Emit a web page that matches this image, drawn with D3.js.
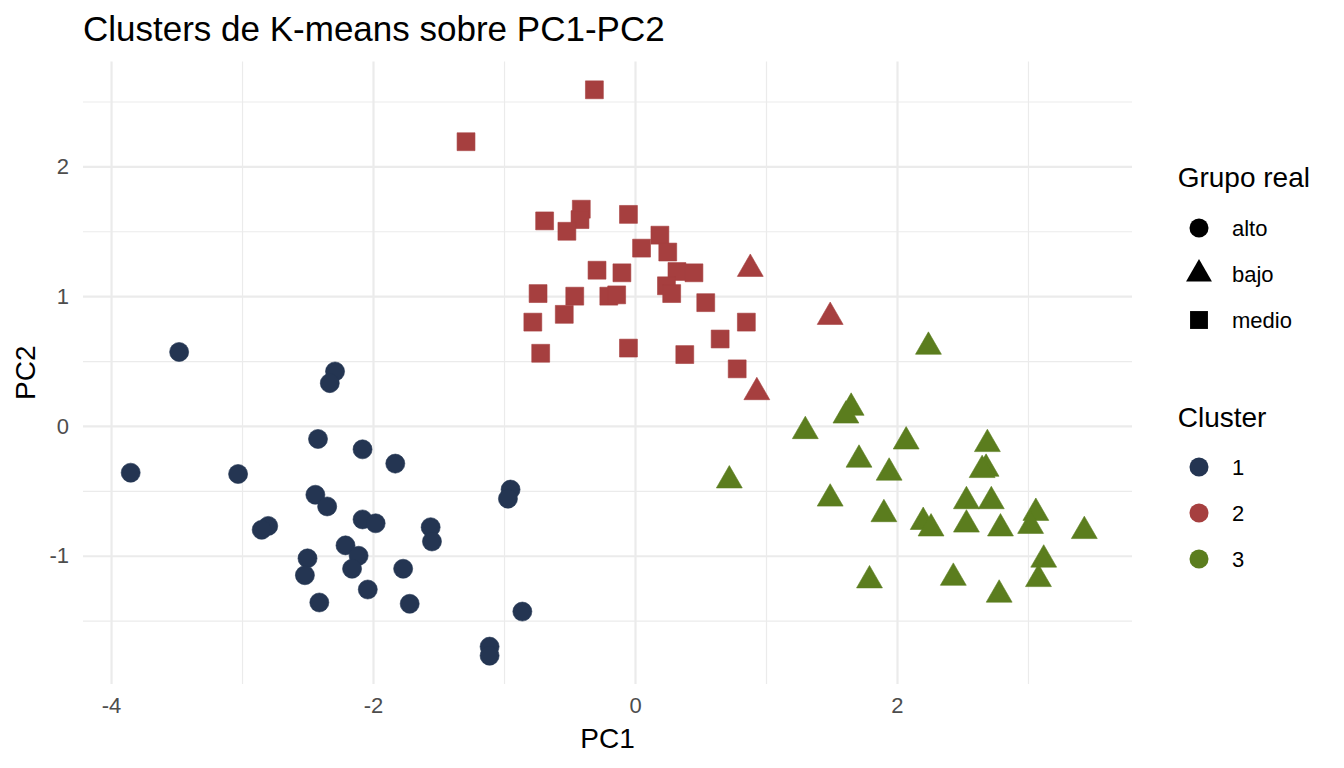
<!DOCTYPE html>
<html>
<head>
<meta charset="utf-8">
<script src="https://cdn.jsdelivr.net/npm/d3@7/dist/d3.min.js"></script>
<style>
  body { margin: 0; background: #fff; }
  svg { font-family: "Liberation Sans", Arial, Helvetica, sans-serif; }
</style>
</head>
<body>
<script>
'use strict';

var width  = 1344;
var height = 768;

// valores
var pc1 = [
  -3.48, -2.29, -2.33, -2.42, -2.08, -3.85, -3.03, -2.44, -2.35, -2.80,
  -2.85, -2.08, -1.98, -2.21, -2.11, -2.16, -2.50, -2.52, -2.04, -2.41,
  -1.83, -1.56, -1.55, -1.77, -1.72, -0.95, -0.97, -0.86, -1.11, -1.11,
  -0.31, -1.29, -0.41, -0.42, -0.69, -0.52, -0.05,  0.19,  0.05,  0.25,
   0.32,  0.45, -0.29, -0.10,  0.24,  0.28, -0.74, -0.46, -0.20, -0.14,
   0.54, -0.54, -0.78,  0.85,  0.65, -0.05,  0.38, -0.72,  0.78,
   0.88,  1.49,  0.93,
   2.24,  1.65,  1.61,  1.30,  2.07,  2.69,  1.71,  1.94,  2.68,  2.65,
   0.72,  1.49,  2.53,  2.72,  1.90,  3.06,  2.20,  2.26,  2.53,  2.79,
   3.02,  3.43,  3.12,  1.79,  2.43,  3.08,  2.78
];
var pc2 = [
   0.57,  0.42,  0.33, -0.10, -0.18, -0.36, -0.37, -0.53, -0.62, -0.77,
  -0.80, -0.72, -0.75, -0.92, -1.00, -1.10, -1.02, -1.15, -1.26, -1.36,
  -0.29, -0.78, -0.89, -1.10, -1.37, -0.49, -0.56, -1.43, -1.70, -1.77,
   2.59,  2.19,  1.67,  1.59,  1.58,  1.50,  1.63,  1.47,  1.37,  1.34,
   1.19,  1.18,  1.20,  1.18,  1.08,  1.02,  1.02,  1.00,  1.00,  1.01,
   0.95,  0.86,  0.80,  0.80,  0.67,  0.60,  0.55,  0.56,  0.44,
   1.21,  0.84,  0.26,
   0.61,  0.14,  0.08, -0.04, -0.12, -0.14, -0.26, -0.36, -0.33, -0.34,
  -0.42, -0.56, -0.58, -0.58, -0.68, -0.67, -0.74, -0.79, -0.76, -0.79,
  -0.77, -0.81, -1.03, -1.19, -1.17, -1.18, -1.30
];
// grupo real y cluster de cada punto (en el mismo orden)
var grupoCounts   = [['alto', 30], ['medio', 29], ['bajo', 3], ['bajo', 27]];
var clusterCounts = [['1', 30], ['2', 29], ['2', 3], ['3', 27]];

var grupos    = ['alto', 'bajo', 'medio'];
var clusters  = ['1', '2', '3'];
var xTicks    = [-4, -2, 0, 2];
var xMinor    = [-3, -1, 1, 3];
var yTicks    = [-1, 0, 1, 2];
var yMinor    = [-1.5, -0.5, 0.5, 1.5, 2.5];

function expandCounts(counts) {
  var out = [];
  counts.forEach(function(c) { for (var i = 0; i < c[1]; i++) out.push(c[0]); });
  return out;
}
var grupo   = expandCounts(grupoCounts);
var cluster = expandCounts(clusterCounts);

var data = pc1.map(function(v, i) {
  return { pc1: v, pc2: pc2[i], grupo: grupo[i], cluster: cluster[i] };
});

var panel = { left: 83, right: 1132, top: 61.5, bottom: 684 };

// expansion del 5% como ggplot
function expanded(ext) {
  var pad = (ext[1] - ext[0]) * 0.05;
  return [ext[0] - pad, ext[1] + pad];
}

var x = d3.scaleLinear()
    .domain(expanded(d3.extent(pc1)))
    .range([panel.left, panel.right]);
var y = d3.scaleLinear()
    .domain(expanded(d3.extent(pc2)))
    .range([panel.bottom, panel.top]);

var color = d3.scaleOrdinal()
    .domain(clusters)
    .range(['#243552', '#A63F3F', '#5B7D1E']);
var shape = d3.scaleOrdinal()
    .domain(grupos)
    .range([d3.symbolCircle, d3.symbolTriangle, d3.symbolSquare]);
var shapeSize = d3.scaleOrdinal()
    .domain(grupos)
    .range([285, 290, 320]);

var symbol = d3.symbol()
    .type(function(d) { return shape(d.grupo); })
    .size(function(d) { return shapeSize(d.grupo); });

// etiquetas con guion normal, como en R
var tickFmt = function(d) { return String(d); };

var svg = d3.select('body').append('svg')
    .attr('width', width)
    .attr('height', height);

var pw = panel.right - panel.left;
var ph = panel.bottom - panel.top;

function grid(g, axis, w) {
  g.call(axis);
  g.select('.domain').remove();
  g.selectAll('line').attr('stroke', '#EBEBEB').attr('stroke-width', w);
}

// rejilla menor
svg.append('g')
    .attr('transform', 'translate(0,' + panel.bottom + ')')
    .call(grid, d3.axisBottom(x).tickValues(xMinor).tickSize(-ph).tickFormat(''), 1.2);
svg.append('g')
    .attr('transform', 'translate(' + panel.left + ',0)')
    .call(grid, d3.axisLeft(y).tickValues(yMinor).tickSize(-pw).tickFormat(''), 1.2);

// rejilla mayor
svg.append('g')
    .attr('transform', 'translate(0,' + panel.bottom + ')')
    .call(grid, d3.axisBottom(x).tickValues(xTicks).tickSize(-ph).tickFormat(''), 2.2);
svg.append('g')
    .attr('transform', 'translate(' + panel.left + ',0)')
    .call(grid, d3.axisLeft(y).tickValues(yTicks).tickSize(-pw).tickFormat(''), 2.2);

// etiquetas de ejes
var xAxis = svg.append('g')
    .attr('transform', 'translate(0,' + panel.bottom + ')')
    .call(d3.axisBottom(x).tickValues(xTicks).tickSize(0).tickPadding(13).tickFormat(tickFmt));
xAxis.select('.domain').remove();
xAxis.selectAll('text')
    .attr('font-size', 22).attr('fill', '#4D4D4D')
    .style('font-family', '"Liberation Sans", Arial, Helvetica, sans-serif');

var yAxis = svg.append('g')
    .attr('transform', 'translate(' + panel.left + ',0)')
    .call(d3.axisLeft(y).tickValues(yTicks).tickSize(0).tickPadding(14).tickFormat(tickFmt));
yAxis.select('.domain').remove();
yAxis.selectAll('text')
    .attr('font-size', 22).attr('fill', '#4D4D4D')
    .style('font-family', '"Liberation Sans", Arial, Helvetica, sans-serif');

// puntos
svg.append('g')
  .selectAll('path')
  .data(data)
  .enter().append('path')
    .attr('d', symbol)
    .attr('transform', function(d) { return 'translate(' + x(d.pc1) + ',' + y(d.pc2) + ')'; })
    .attr('fill', function(d) { return color(d.cluster); })
    .attr('stroke', function(d) { return color(d.cluster); })
    .attr('stroke-width', 0.6);

// titulos
svg.append('text')
    .attr('x', 83).attr('y', 41)
    .attr('font-size', 35)
    .text('Clusters de K-means sobre PC1-PC2');

svg.append('text')
    .attr('x', (panel.left + panel.right) / 2).attr('y', 748)
    .attr('text-anchor', 'middle')
    .attr('font-size', 28)
    .text('PC1');

svg.append('text')
    .attr('transform', 'translate(35,' + ((panel.top + panel.bottom) / 2) + ') rotate(-90)')
    .attr('text-anchor', 'middle')
    .attr('font-size', 28)
    .text('PC2');

// leyendas
var legendX = 1177.7;
var keyX    = 1199;
var labelX  = 1232;

var lg1 = svg.append('g');
lg1.append('text')
    .attr('x', legendX).attr('y', 187)
    .attr('font-size', 28)
    .text('Grupo real');
grupos.forEach(function(g, i) {
  var cy = 228 + i * 46;
  lg1.append('path')
      .attr('d', symbol({ grupo: g }))
      .attr('transform', 'translate(' + keyX + ',' + cy + ')')
      .attr('fill', '#000');
  lg1.append('text')
      .attr('x', labelX).attr('y', cy + 8)
      .attr('font-size', 22)
      .text(g);
});

var lg2 = svg.append('g');
lg2.append('text')
    .attr('x', legendX).attr('y', 427)
    .attr('font-size', 28)
    .text('Cluster');
clusters.forEach(function(c, i) {
  var cy = 467 + i * 46;
  lg2.append('path')
      .attr('d', symbol({ grupo: 'alto' }))
      .attr('transform', 'translate(' + keyX + ',' + cy + ')')
      .attr('fill', color(c));
  lg2.append('text')
      .attr('x', labelX).attr('y', cy + 8)
      .attr('font-size', 22)
      .text(c);
});
</script>
</body>
</html>
